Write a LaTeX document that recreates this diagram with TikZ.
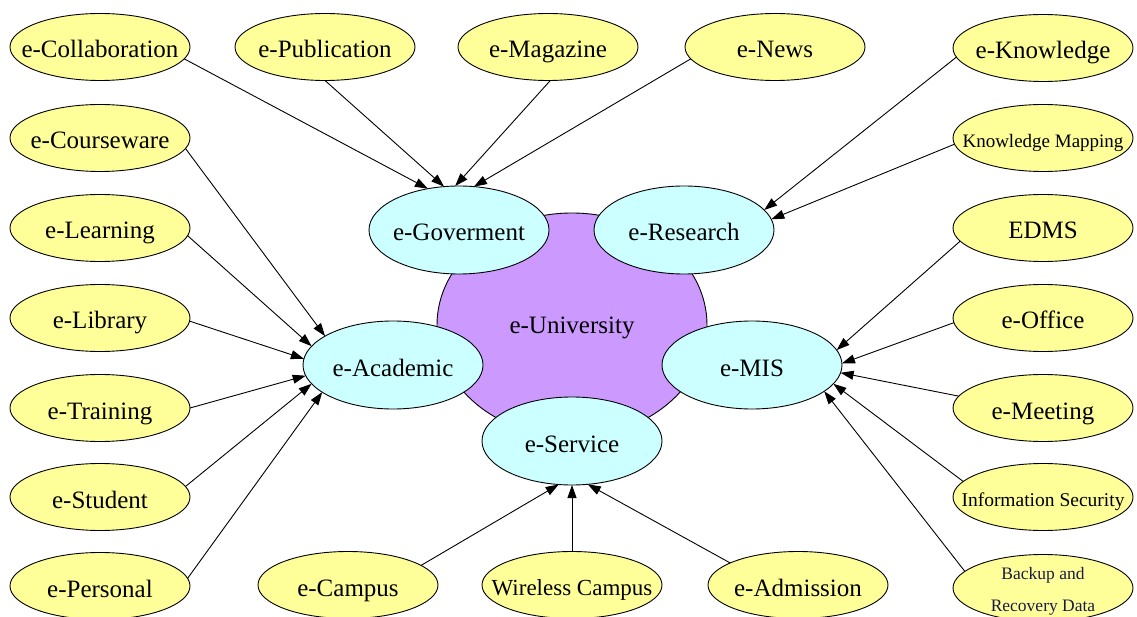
\documentclass[tikz,border=0pt]{standalone}
\usepackage{fontspec}
\setmainfont{Liberation Serif}
\usetikzlibrary{shapes.geometric,arrows.meta}
\definecolor{yel}{HTML}{FFFF99}
\definecolor{cyn}{HTML}{CCFFFF}
\definecolor{pur}{HTML}{CC99FF}
\definecolor{navy}{HTML}{1A1A4A}
\newcommand\mb[1]{\makebox[0pt]{#1}}
\tikzset{
  ell/.style={ellipse, draw=black, line width=0.9pt, inner sep=0pt, outer sep=0pt,
              text height=22pt, text depth=0pt},
  leaf/.style={ell, fill=yel, minimum width=180pt, minimum height=67pt, font=\fontsize{25}{30}\selectfont},
  hub/.style={ell, fill=cyn, minimum width=180pt, minimum height=88pt, font=\fontsize{25}{30}\selectfont},
  uni/.style={ell, fill=pur, minimum width=270pt, minimum height=224pt, font=\fontsize{25}{30}\selectfont,
              text height=17pt},
  smallf/.style={font=\fontsize{19.5}{23}\selectfont, text height=19pt},
  arr/.style={draw=black, line width=0.9pt, -{Triangle[length=13pt,width=9pt]}}
}
\begin{document}
\begin{tikzpicture}[x=1pt,y=-1pt]
\useasboundingbox (0,0) rectangle (1137,617);
% centre
\node[uni] (uni) at (572,325) {\mb{e-University}};
\node[hub] (gov) at (459,230) {\mb{e-Goverment}};
\node[hub] (res) at (684,230) {\mb{e-Research}};
\node[hub] (aca) at (393,365) {\mb{e-Academic}};
\node[hub] (mis) at (752,365) {\mb{e-MIS}};
\node[hub] (ser) at (572,441) {\mb{e-Service}};
% top row
\node[leaf] (col) at (100,47) {\mb{e-Collaboration}};
\node[leaf] (pub) at (325,47) {\mb{e-Publication}};
\node[leaf] (mag) at (548,47) {\mb{e-Magazine}};
\node[leaf] (new) at (775,47) {\mb{e-News}};
% left column
\node[leaf] (cou) at (100,138) {\mb{e-Courseware}};
\node[leaf] (lea) at (100,228) {\mb{e-Learning}};
\node[leaf] (lib) at (100,318) {\mb{e-Library}};
\node[leaf] (tra) at (100,408) {\mb{e-Training}};
\node[leaf] (stu) at (100,497) {\mb{e-Student}};
\node[leaf] (per) at (100,586) {\mb{e-Personal}};
% right column
\node[leaf] (kno) at (1043,48) {\mb{e-Knowledge}};
\node[leaf,smallf,font=\fontsize{19}{22}\selectfont] (kma) at (1043,138) {\mb{Knowledge Mapping}};
\node[leaf] (edm) at (1043,228) {\mb{EDMS}};
\node[leaf] (off) at (1043,318) {\mb{e-Office}};
\node[leaf] (mee) at (1043,408) {\mb{e-Meeting}};
\node[leaf,smallf] (inf) at (1043,497) {\mb{Information Security}};
\node[leaf,font=\fontsize{17.5}{32}\selectfont,text=navy,text height=0pt,text depth=0pt] (bac) at (1043,588)
  {\mb{\smash{\raisebox{-5pt}{\begin{tabular}{@{}c@{}}Backup and\\Recovery Data\end{tabular}}}}};
% bottom row
\node[leaf] (cam) at (348,585) {\mb{e-Campus}};
\node[leaf,font=\fontsize{23}{27}\selectfont,text height=20pt] (wir) at (572,585) {\mb{Wireless Campus}};
\node[leaf] (adm) at (798,585) {\mb{e-Admission}};
% edges to e-Goverment
\draw[arr] (col.-8.6) -- (gov.127);
\draw[arr] (pub.-90) -- (gov.109);
\draw[arr] (mag.-86) -- (gov.95);
\draw[arr] (new.188.7) -- (gov.71);
% edges to e-Research
\draw[arr] (kno.186.7) -- (res.14.7);
\draw[arr] (kma.184.6) -- (res.7.7);
% edges to e-Academic
\draw[arr] (cou.-7.9) -- (aca.157.7);
\draw[arr] (lea.-5.8) -- (aca.167.5);
\draw[arr] (lib.-2.5) -- (aca.176.9);
\draw[arr] (tra.0.6) -- (aca.187.6);
\draw[arr] (stu.7.9) -- (aca.193.6);
\draw[arr] (per.5.9) -- (aca.201.8);
% edges to e-MIS
\draw[arr] (edm.189.5) -- (mis.10.7);
\draw[arr] (off.183.3) -- (mis.1.9);
\draw[arr] (mee.172.7) -- (mis.-5.1);
\draw[arr] (inf.169.4) -- (mis.-13.4);
\draw[arr] (bac.168.4) -- (mis.-20.7);
% edges to e-Service
\draw[arr] (cam.15.5) -- (ser.253);
\draw[arr] (wir.north) -- (ser.south);
\draw[arr] (adm.162.8) -- (ser.290.3);
\end{tikzpicture}
\end{document}
